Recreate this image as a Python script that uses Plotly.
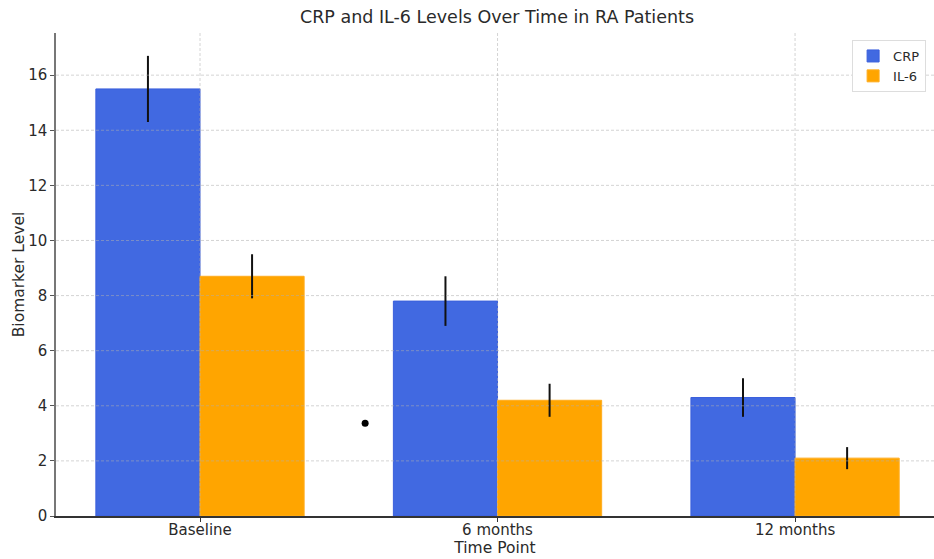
import plotly.graph_objects as go

categories = ["Baseline", "6 months", "12 months"]
crp_values = [15.5, 7.8, 4.3]
crp_errors = [1.2, 0.9, 0.7]
il6_values = [8.7, 4.2, 2.1]
il6_errors = [0.8, 0.6, 0.4]
y_ticks = [0, 2, 4, 6, 8, 10, 12, 14, 16]
stray_point_x = [0.555]
stray_point_y = [3.37]

positions = list(range(len(categories)))
bar_width = 0.35
font_family = "DejaVu Sans"
text_color = "#2a2a2a"
grid_color = "rgba(175,175,175,0.6)"

fig = go.Figure()
fig.add_trace(go.Bar(
    x=positions, y=crp_values, width=bar_width, offset=-bar_width, name="CRP",
    marker=dict(color="#4169E1", line=dict(color="#3a5fdc", width=1)),
    error_y=dict(type="data", array=crp_errors, color="#111111", thickness=2, width=0),
))
fig.add_trace(go.Bar(
    x=positions, y=il6_values, width=bar_width, offset=0, name="IL-6",
    marker=dict(color="#FFA500", line=dict(color="#ffad1f", width=1)),
    error_y=dict(type="data", array=il6_errors, color="#111111", thickness=2, width=0),
))
fig.add_trace(go.Scatter(
    x=stray_point_x, y=stray_point_y, mode="markers", showlegend=False,
    marker=dict(color="black", size=7),
))

# grid lines drawn above the bars (like the reference)
for yv in y_ticks[1:]:
    fig.add_shape(type="line", xref="x domain", yref="y", x0=0, x1=1, y0=yv, y1=yv,
                  line=dict(color=grid_color, width=0.9, dash="3px,2px"), layer="above")
for xv in positions:
    fig.add_shape(type="line", xref="x", yref="y domain", x0=xv, x1=xv, y0=0, y1=1,
                  line=dict(color=grid_color, width=0.9, dash="3px,2px"), layer="above")

fig.update_layout(
    width=934, height=559,
    margin=dict(l=56, r=0, t=33, b=43),
    paper_bgcolor="white", plot_bgcolor="white",
    barmode="overlay",
    font=dict(family=font_family, color=text_color, size=15),
    title=dict(text="CRP and IL-6 Levels Over Time in RA Patients",
               x=(497 - 56) / 878, xref="paper", xanchor="center",
               y=1 - 17 / 559, yref="container", yanchor="middle",
               font=dict(size=17.5, color=text_color)),
    legend=dict(x=0.991, y=0.9855, xanchor="right", yanchor="top",
                bgcolor="white", bordercolor="#dddddd", borderwidth=1,
                font=dict(size=13), itemwidth=30, tracegroupgap=2),
    xaxis=dict(range=[-0.484, 2.467], tickmode="array", tickvals=positions, ticktext=categories,
               showgrid=False, zeroline=False, showline=True, linecolor="#333333", linewidth=1.5,
               ticks="outside", ticklen=4, tickcolor="#333333", ticklabelstandoff=-5,
               title=dict(text="Time Point", standoff=4, font=dict(size=15.5))),
    yaxis=dict(range=[0, 17.53], tickmode="array", tickvals=y_ticks,
               showgrid=False, zeroline=False, showline=True, linecolor="#777777", linewidth=1.5,
               ticks="outside", ticklen=4, tickcolor="#555555",
               title=dict(text="Biomarker Level", standoff=0, font=dict(size=15.5))),
)

fig.write_html("out.html", config={"displayModeBar": False},
               post_script="document.body.style.margin='0';")
